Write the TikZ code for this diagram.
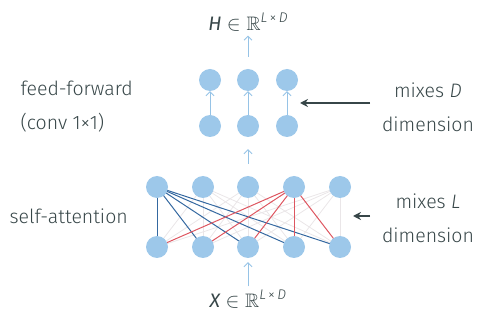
\documentclass[tikz,border=0pt]{standalone}
\usepackage{amssymb}
\usepackage{fontspec}
\setmainfont{Fira Sans}[UprightFont=* Light, ItalicFont=* Light Italic]
\newfontfamily\varfont{Fira Sans}[UprightFont=* Italic]
\usetikzlibrary{arrows.meta}
\definecolor{nodeblue}{RGB}{157,200,234}
\definecolor{txt}{RGB}{55,70,72}
\definecolor{lineblue}{RGB}{52,104,160}
\definecolor{linered}{RGB}{222,86,96}
\definecolor{faint}{RGB}{234,230,232}
\definecolor{arrowblue}{RGB}{150,195,230}
\newcommand{\dimsup}{\raisebox{0.75ex}{\fontsize{14}{14}\selectfont\textit{L}\,×\,\textit{D}}}
\tikzset{
  unit/.style={circle,fill=nodeblue,minimum size=22pt,inner sep=0pt},
  lbl/.style={text=txt,font=\fontsize{19.5}{34}\selectfont,align=center},
  flow/.style={draw=arrowblue,line width=0.9pt,-{Straight Barb[length=4pt,width=8pt]}},
  pointer/.style={draw=txt,line width=1.4pt,-{Stealth[length=8pt,width=8pt]}},
  attb/.style={draw=lineblue,line width=1pt},
  attr/.style={draw=linered,line width=1pt},
  attf/.style={draw=faint,line width=0.8pt}
}
\begin{document}
\begin{tikzpicture}[x=1pt,y=-1pt]
\useasboundingbox (0,0) rectangle (479,320);
\foreach \i/\x in {1/157,2/203,3/248,4/294,5/340}{
  \coordinate (t\i) at (\x,187);
  \coordinate (b\i) at (\x,247);
}
\foreach \i in {2,3,5}{
  \foreach \j in {1,...,5}{
    \draw[attf] (t\i) -- (b\j);
  }
}
\foreach \j in {1,...,5}{ \draw[attb] (t1) -- (b\j); }
\foreach \j in {1,...,5}{ \draw[attr] (t4) -- (b\j); }
\foreach \i in {1,...,5}{
  \node[unit] (T\i) at (t\i) {};
  \node[unit] (B\i) at (b\i) {};
}
\foreach \i/\x in {1/210,2/248,3/287}{
  \node[unit] (L\i) at (\x,126) {};
  \node[unit] (U\i) at (\x,80) {};
  \draw[flow] (L\i) -- (U\i);
}
\draw[flow,shorten <=12pt,shorten >=12pt] (T3) -- (L2);
\node[lbl] (H) at (248,22) {{\varfont H} $\in\mathbb{R}$\dimsup};
\draw[flow,shorten <=12pt,shorten >=1pt] (U2) -- (H);
\node[lbl] (X) at (248,299) {{\varfont X} $\in\mathbb{R}$\dimsup};
\draw[flow,shorten >=4pt] (X) -- (B3);
\node[lbl,align=left,anchor=west] (ff) at (17,107) {feed-forward\\(conv 1×1)};
\node[lbl,anchor=west] (sa) at (6,216) {self-attention};
\node[lbl] (md) at (428,107) {mixes \textit{D}\\dimension};
\node[lbl] (ml) at (428,218) {mixes \textit{L}\\dimension};
\coordinate (pd) at (300,103);
\coordinate (pl) at (353,216);
\draw[pointer] (370,103) -- (pd);
\draw[pointer] (370,216) -- (pl);
\end{tikzpicture}
\end{document}
